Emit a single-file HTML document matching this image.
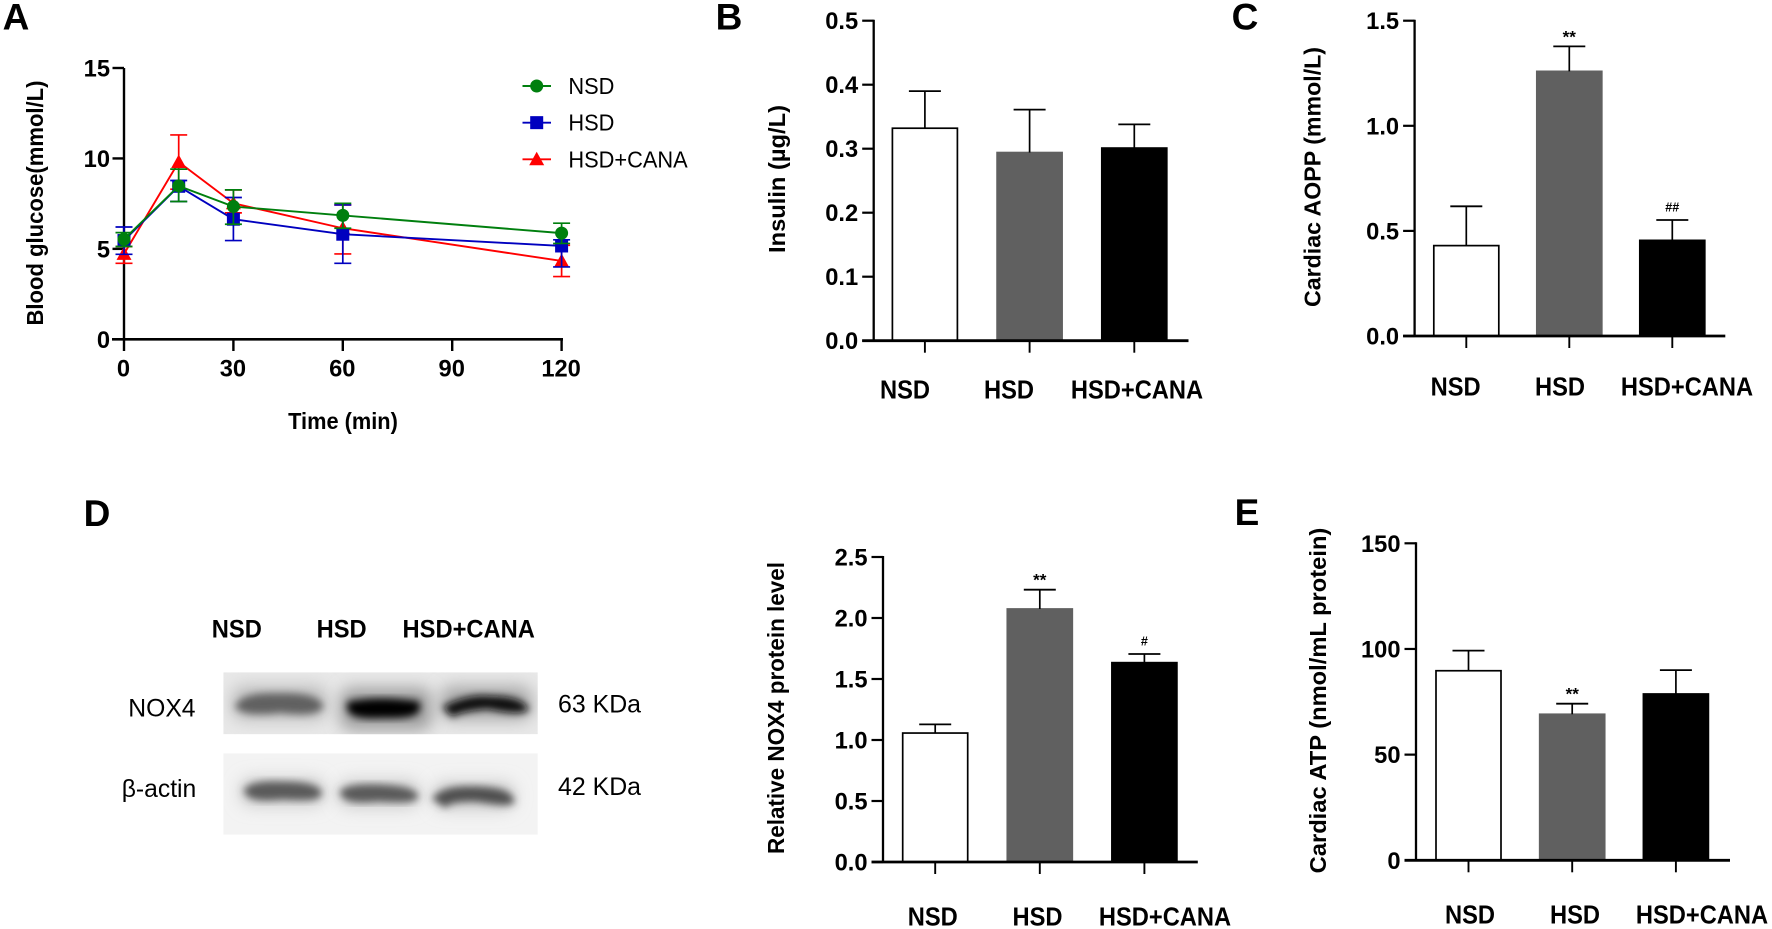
<!DOCTYPE html>
<html lang="en">
<head>
<meta charset="utf-8">
<title>Blood glucose, insulin, AOPP, NOX4 and ATP figure</title>
<style>
html,body{margin:0;padding:0;background:#fff;}
svg{display:block;}
text{font-family:"Liberation Sans",sans-serif;fill:#000;}
</style>
</head>
<body>
<svg id="fig" xmlns="http://www.w3.org/2000/svg" width="1772" height="929" viewBox="0 0 1772 929">
  <defs>
    <filter id="blur-band" x="-30%" y="-100%" width="160%" height="300%"><feGaussianBlur stdDeviation="4"/></filter>
    <filter id="blur-halo" x="-30%" y="-120%" width="160%" height="340%"><feGaussianBlur stdDeviation="8"/></filter>
    <clipPath id="clip-upper"><rect x="223.3" y="672.3" width="314.5" height="62"/></clipPath>
    <clipPath id="clip-lower"><rect x="223.3" y="753.3" width="314.5" height="81.4"/></clipPath>
  </defs>

  <g>
    <g clip-path="url(#clip-upper)">
      <rect x="223.3" y="672.3" width="314.5" height="62" fill="#e8e8e8"/>
      <rect x="232" y="686" width="95" height="34" rx="12" fill="#bcbcbc" filter="url(#blur-halo)"/>
      <rect x="340" y="688" width="92" height="42" rx="12" fill="#9c9c9c" filter="url(#blur-halo)"/>
      <rect x="440" y="686" width="92" height="34" rx="12" fill="#a8a8a8" filter="url(#blur-halo)"/>
      <path d="M241 706 Q247 697 278 698 Q312 697 318 706 Q312 712 280 708 Q250 712 241 706Z" fill="#606060" stroke="#606060" stroke-width="9" filter="url(#blur-band)"/>
      <path d="M352 706 Q380 701 415 706 Q417 714 384 713 Q351 715 352 706Z" fill="#000" stroke="#000" stroke-width="10" filter="url(#blur-band)"/>
      <path d="M449 708 Q470 698 490 700 Q516 700 523 708 Q516 711 488 705 Q462 707 453 712Z" fill="#101010" stroke="#101010" stroke-width="8" filter="url(#blur-band)"/>
    </g>
    <g clip-path="url(#clip-lower)">
      <rect x="223.3" y="753.3" width="314.5" height="81.4" fill="#f3f3f3"/>
      <rect x="240" y="778" width="85" height="28" rx="12" fill="#cccccc" filter="url(#blur-halo)"/>
      <rect x="338" y="780" width="82" height="28" rx="12" fill="#cccccc" filter="url(#blur-halo)"/>
      <rect x="433" y="782" width="82" height="28" rx="12" fill="#cccccc" filter="url(#blur-halo)"/>
      <path d="M249 791 Q256 785 280 786 Q312 786 317 793 Q315 797 282 795 Q252 798 249 791Z" fill="#5a5a5a" stroke="#5a5a5a" stroke-width="9" filter="url(#blur-band)"/>
      <path d="M345 793 Q352 788 378 789 Q408 790 413 796 Q410 799 378 797 Q348 800 345 793Z" fill="#5a5a5a" stroke="#5a5a5a" stroke-width="9" filter="url(#blur-band)"/>
      <path d="M439 798 Q448 790 476 791 Q506 792 509 800 Q504 802 476 797 Q450 797 445 802Z" fill="#505050" stroke="#505050" stroke-width="9" filter="url(#blur-band)"/>
    </g>
  </g>
</svg>

<script>
// ---- Panel A data (blood glucose, mmol/L) ----
var timeTicks = [0, 30, 60, 90, 120];
var timePoints = [0, 15, 30, 60, 120];
var glucoseTicks = [0, 5, 10, 15];
var nsdMean = [5.53, 8.48, 7.34, 6.85, 5.87];
var nsdHigh = [5.90, 9.41, 8.26, 7.52, 6.42];
var nsdLow = [5.13, 7.62, 6.36, 6.14, 5.30];
var hsdMean = [5.46, 8.46, 6.64, 5.81, 5.16];
var hsdHigh = [6.21, 8.78, 7.84, 7.43, 5.50];
var hsdLow = [4.70, 7.62, 5.46, 4.20, 4.00];
var canaMean = [4.72, 9.80, 7.52, 6.14, 4.33];
var canaHigh = [5.13, 11.30, 8.26, 7.43, 5.20];
var canaLow = [4.20, 8.30, 6.99, 4.72, 3.47];

// ---- Bar panel data ----
var categories = ["NSD", "HSD", "HSD+CANA"];
var insulinTicks = ["0.0", "0.1", "0.2", "0.3", "0.4", "0.5"];
var insulinValues = [0.332, 0.294, 0.301];
var insulinTops = [0.390, 0.361, 0.338];
var insulinMarks = ["", "", ""];
var aoppTicks = ["0.0", "0.5", "1.0", "1.5"];
var aoppValues = [0.43, 1.259, 0.455];
var aoppTops = [0.617, 1.378, 0.552];
var aoppMarks = ["", "**", "##"];
var noxTicks = ["0.0", "0.5", "1.0", "1.5", "2.0", "2.5"];
var noxValues = [1.057, 2.074, 1.634];
var noxTops = [1.128, 2.232, 1.705];
var noxMarks = ["", "**", "#"];
var atpTicks = ["0", "50", "100", "150"];
var atpValues = [89.7, 69.1, 78.7];
var atpTops = [99.2, 74.1, 90.0];
var atpMarks = ["", "**", ""];

var NS = "http://www.w3.org/2000/svg";
var fig = document.getElementById("fig");

function svgEl(tag, name, parent) {
  var el = document.createElementNS(NS, tag);
  
  
  (parent || fig).appendChild(el);
  return el;
}
function line(name, parent, x1, y1, x2, y2, color, width) {
  var el = svgEl("line", name, parent);
  el.setAttribute("x1", x1); el.setAttribute("y1", y1);
  el.setAttribute("x2", x2); el.setAttribute("y2", y2);
  el.setAttribute("stroke", color); el.setAttribute("stroke-width", width);
  return el;
}
function label(name, parent, str, x, y, size, weight, anchor) {
  var el = svgEl("text", name, parent);
  el.setAttribute("x", x); el.setAttribute("y", y);
  el.setAttribute("font-size", size);
  el.setAttribute("font-weight", weight);
  el.setAttribute("text-anchor", anchor);
  el.textContent = str;
  return el;
}
function tall(el, y, s) {
  el.setAttribute("transform", "translate(0 " + y + ") scale(1 " + s + ") translate(0 " + (-y) + ")");
  return el;
}
function vertTitle(name, parent, str, cx, cy, len) {
  var el = label(name, parent, str, cx, cy, 23, "bold", "middle");
  el.setAttribute("transform", "rotate(-90 " + cx + " " + cy + ")");
  el.setAttribute("textLength", len);
  el.setAttribute("lengthAdjust", "spacingAndGlyphs");
  return el;
}
function linear(d0, d1, r0, r1) {
  return function (v) { return r0 + (v - d0) / (d1 - d0) * (r1 - r0); };
}

// ---- Panel letters ----
function panelLetter(name, str, x, y) {
  label(name, fig, str, x, y, 37, "bold", "middle");
}
panelLetter("panel-letter-a", "A", 16, 29.5);
panelLetter("panel-letter-b", "B", 729, 29.5);
panelLetter("panel-letter-c", "C", 1245, 29.5);
panelLetter("panel-letter-d", "D", 97, 526);
panelLetter("panel-letter-e", "E", 1247, 525);

// ---- Panel A ----
(function () {
  var g = svgEl("g", "panel-a-glucose-chart");
  var xA = linear(0, 120, 124, 561.6);
  var yA = linear(0, 15, 339.3, 68);

  function series(name, color, mean, high, low, marker) {
    var sg = svgEl("g", name + "-series", g);
    mean.forEach(function (m, i) {
      var x = xA(timePoints[i]);
      line(name + "-error-stem", sg, x, yA(high[i]), x, yA(low[i]), color, 1.7);
      line(name + "-error-cap-high", sg, x - 8.5, yA(high[i]), x + 8.5, yA(high[i]), color, 1.7);
      line(name + "-error-cap-low", sg, x - 8.5, yA(low[i]), x + 8.5, yA(low[i]), color, 1.7);
    });
    var pl = svgEl("polyline", name + "-line", sg);
    pl.setAttribute("fill", "none");
    pl.setAttribute("stroke", color);
    pl.setAttribute("stroke-width", 1.9);
    pl.setAttribute("points", mean.map(function (m, i) { return xA(timePoints[i]) + "," + yA(m); }).join(" "));
    mean.forEach(function (m, i) {
      marker(name + "-marker", sg, xA(timePoints[i]), yA(m), color);
    });
  }
  function circle(name, p, x, y, color) {
    var c = svgEl("circle", name, p);
    c.setAttribute("cx", x); c.setAttribute("cy", y); c.setAttribute("r", 6.5);
    c.setAttribute("fill", color);
  }
  function square(name, p, x, y, color) {
    var c = svgEl("rect", name, p);
    c.setAttribute("x", x - 6.5); c.setAttribute("y", y - 6.5);
    c.setAttribute("width", 13); c.setAttribute("height", 13);
    c.setAttribute("fill", color);
  }
  function triangle(name, p, x, y, color) {
    var c = svgEl("polygon", name, p);
    c.setAttribute("points", (x - 7.5) + "," + (y + 6) + " " + (x + 7.5) + "," + (y + 6) + " " + x + "," + (y - 7.5));
    c.setAttribute("fill", color);
  }

  // axes
  line("y-axis", g, 124, 68, 124, 340.5, "#000", 2.4);
  line("x-axis", g, 112, 339.3, 563, 339.3, "#000", 2.6);
  glucoseTicks.forEach(function (t) {
    line("y-tick", g, 112.5, yA(t), 124, yA(t), "#000", 2.4);
    label("y-tick-label", g, String(t), 110, yA(t) + 8.5, 23.7, "bold", "end");
  });
  timeTicks.forEach(function (t) {
    line("x-tick", g, xA(t), 339.3, xA(t), 351, "#000", 2.4);
    label("x-tick-label", g, String(t), xA(t) - 0.5, 376.5, 23.7, "bold", "middle");
  });
  vertTitle("y-axis-title", g, "Blood glucose(mmol/L)", 43, 203, 245);
  tall(label("x-axis-title", g, "Time (min)", 343, 429, 21.8, "bold", "middle"), 429, 1.08);

  series("hsd-cana", "#ff0000", canaMean, canaHigh, canaLow, triangle);
  series("hsd", "#0000bf", hsdMean, hsdHigh, hsdLow, square);
  series("nsd", "#007f0e", nsdMean, nsdHigh, nsdLow, circle);

  // legend
  var legendNames = ["NSD", "HSD", "HSD+CANA"];
  var legendColors = ["#007f0e", "#0000bf", "#ff0000"];
  var legendMarkers = [circle, square, triangle];
  legendNames.forEach(function (n, i) {
    var y = 86 + i * 36.65;
    var lg = svgEl("g", "legend-entry", g);
    line("legend-line", lg, 522.5, y, 551, y, legendColors[i], 1.9);
    legendMarkers[i]("legend-marker", lg, 536.7, y, legendColors[i]);
    tall(label("legend-label", lg, n, 568.4, y + 8, 21.8, "normal", "start"), y + 8, 1.07);
  });
})();

// ---- Bar panels ----
function barPanel(cfg) {
  var g = svgEl("g", cfg.name);
  var y = linear(0, parseFloat(cfg.ticks[cfg.ticks.length - 1]), cfg.y0, cfg.yTop);
  var x = function (i) { return cfg.x0 + i * cfg.step; };
  var fills = ["#ffffff", "#606060", "#000000"];
  var bw = 65;

  cfg.values.forEach(function (v, i) {
    var bar = svgEl("rect", "bar-" + categories[i].toLowerCase().replace("+", "-"), g);
    bar.setAttribute("x", x(i) - bw / 2);
    bar.setAttribute("y", y(v));
    bar.setAttribute("width", bw);
    bar.setAttribute("height", cfg.y0 - y(v));
    bar.setAttribute("fill", fills[i]);
    bar.setAttribute("stroke", i === 1 ? "#606060" : "#000");
    bar.setAttribute("stroke-width", 1.7);
    line("error-stem", g, x(i), y(v), x(i), y(cfg.tops[i]), "#000", 1.7);
    line("error-cap", g, x(i) - 16, y(cfg.tops[i]), x(i) + 16, y(cfg.tops[i]), "#000", 1.8);
    if (cfg.marks[i]) {
      var isStar = cfg.marks[i].charAt(0) === "*";
      label("significance-mark", g, cfg.marks[i], x(i), y(cfg.tops[i]) - (isStar ? 4 : 8.7), isStar ? 17 : 12.6, "bold", "middle");
    }
    line("x-tick", g, x(i), cfg.y0, x(i), cfg.y0 + 12, "#000", 1.9);
    tall(label("x-category-label", g, categories[i], cfg.labelX[i], cfg.labelY + 8, 23.7, "bold", "middle"), cfg.labelY + 8, 1.09);
  });
  line("y-axis", g, cfg.axisX, cfg.yTop - 1, cfg.axisX, cfg.y0 + 1, "#000", 2.3);
  line("x-axis", g, cfg.axisX - 11.5, cfg.y0, cfg.axisEnd, cfg.y0, "#000", 2.8);
  cfg.ticks.forEach(function (t) {
    var v = parseFloat(t);
    line("y-tick", g, cfg.axisX - 11.5, y(v), cfg.axisX, y(v), "#000", 2.2);
    label("y-tick-label", g, t, cfg.axisX - 15.5, y(v) + 8.5, 23.7, "bold", "end");
  });
  vertTitle("y-axis-title", g, cfg.title, cfg.titleX, cfg.titleY, cfg.titleLen);
}

barPanel({ name: "panel-b-insulin-chart", values: insulinValues, tops: insulinTops, marks: insulinMarks, ticks: insulinTicks,
  axisX: 873.7, axisEnd: 1188.5, y0: 340.7, yTop: 20.7, x0: 924.9, step: 104.7,
  labelX: [905, 1009, 1137], labelY: 390.7, title: "Insulin (\u00b5g/L)", titleX: 785, titleY: 179, titleLen: 148 });
barPanel({ name: "panel-c-aopp-chart", values: aoppValues, tops: aoppTops, marks: aoppMarks, ticks: aoppTicks,
  axisX: 1414.6, axisEnd: 1725.3, y0: 336, yTop: 20.7, x0: 1466.3, step: 103,
  labelX: [1455.6, 1560, 1687], labelY: 387.7, title: "Cardiac AOPP (mmol/L)", titleX: 1320.5, titleY: 177, titleLen: 260 });
barPanel({ name: "panel-d-nox4-chart", values: noxValues, tops: noxTops, marks: noxMarks, ticks: noxTicks,
  axisX: 883, axisEnd: 1197.8, y0: 862, yTop: 557, x0: 935.2, step: 104.6,
  labelX: [932.8, 1037.5, 1165], labelY: 917.7, title: "Relative NOX4 protein level", titleX: 784, titleY: 708, titleLen: 292 });
barPanel({ name: "panel-e-atp-chart", values: atpValues, tops: atpTops, marks: atpMarks, ticks: atpTicks,
  axisX: 1416, axisEnd: 1730, y0: 860.3, yTop: 543.3, x0: 1468.5, step: 103.7,
  labelX: [1470, 1575, 1702], labelY: 915.7, title: "Cardiac ATP (nmol/mL protein)", titleX: 1326, titleY: 700.5, titleLen: 345.7 });

// ---- Western blot labels ----
(function () {
  var g = svgEl("g", "western-blot-labels");
  tall(label("lane-label", g, "NSD", 236.8, 637.5, 23.7, "bold", "middle"), 637.5, 1.06);
  tall(label("lane-label", g, "HSD", 341.6, 637.5, 23.7, "bold", "middle"), 637.5, 1.06);
  tall(label("lane-label", g, "HSD+CANA", 468.7, 637.5, 23.7, "bold", "middle"), 637.5, 1.06);
  label("protein-label-nox4", g, "NOX4", 161.9, 716.5, 24.7, "normal", "middle");
  label("protein-label-actin", g, "\u03b2-actin", 159, 797, 24.7, "normal", "middle");
  label("mass-label-63", g, "63 KDa", 599.5, 712.5, 24.9, "normal", "middle");
  label("mass-label-42", g, "42 KDa", 599.5, 795, 24.9, "normal", "middle");
})();
</script>
</body>
</html>
